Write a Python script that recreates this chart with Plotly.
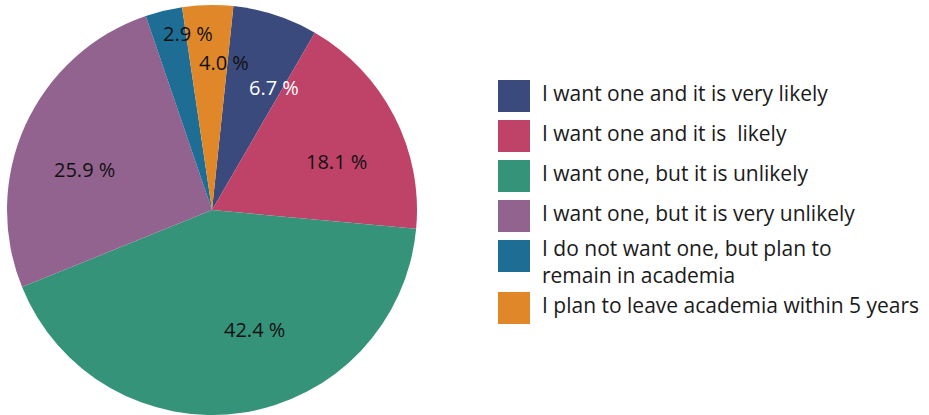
import math
import plotly.graph_objects as go

# Survey answers: career outlook in academia
categories = [
    "I want one and it is very likely",
    "I want one and it is  likely",
    "I want one, but it is unlikely",
    "I want one, but it is very unlikely",
    "I do not want one, but plan to<br>remain in academia",
    "I plan to leave academia within 5 years",
]
shares = [6.7, 18.1, 42.4, 25.9, 2.9, 4.0]
colors = ["#3a4a7d", "#bf4268", "#35937a", "#93638f", "#1d6d94", "#e08829"]
label_colors = ["#ffffff", "#111111", "#111111", "#111111", "#111111", "#111111"]

# Where each value label sits: fraction of the radius, and a turn (degrees)
# away from the middle of its slice
label_radius = [0.67, 0.65, 0.62, 0.65, 0.87, 0.72]
label_turn = [9, 6, -11, -7, 6, 6]

FONT = "Open Sans"
W, H = 929, 415
ROTATION = 6

pie_x = [7 / W, 417 / W]
pie_y = [0, 410 / H]

fig = go.Figure()

fig.add_trace(go.Pie(
    values=shares,
    labels=[c.replace("<br>", " ") for c in categories],
    marker=dict(colors=colors, line=dict(width=0)),
    sort=False,
    direction="clockwise",
    rotation=ROTATION,
    textinfo="none",
    hoverinfo="label+percent",
    showlegend=False,
    domain=dict(x=pie_x, y=pie_y),
))

# Value labels, placed along each slice's angle (clockwise from 12 o'clock)
cx = (pie_x[0] + pie_x[1]) / 2 * W
cy = (pie_y[0] + pie_y[1]) / 2 * H          # from the bottom
radius = min((pie_x[1] - pie_x[0]) * W, (pie_y[1] - pie_y[0]) * H) / 2
total = sum(shares)
start = ROTATION
for v, col, rf, turn in zip(shares, label_colors, label_radius, label_turn):
    sweep = v / total * 360
    ang = math.radians(start + sweep / 2 + turn)
    px = cx + rf * radius * math.sin(ang)
    py = cy + rf * radius * math.cos(ang)
    fig.add_annotation(
        x=px / W, y=py / H, xref="paper", yref="paper",
        text=f"{v:.1f} %", showarrow=False,
        xanchor="center", yanchor="middle",
        font=dict(family=FONT, size=20, color=col),
    )
    start += sweep

# Legend column: one swatch per category, rows spaced by line count
line_counts = [c.count("<br>") + 1 for c in categories]
legend_y = []
pos = 0.0
for n in line_counts:
    legend_y.append(pos)
    pos += 1.0 + 0.3 * (n - 1)
# wrapped labels hang a little below their swatch
text_y = [y + 0.2 * (n - 1) for y, n in zip(legend_y, line_counts)]

LEG_W = W - 514          # width of the legend x axis in px
TEXT_DX = 28 / LEG_W      # gap from swatch centre to label start

fig.add_trace(go.Scatter(
    x=[0] * len(categories),
    y=legend_y,
    mode="markers",
    marker=dict(symbol="square", size=32, color=colors, line=dict(width=0)),
    hoverinfo="skip",
    showlegend=False,
    cliponaxis=False,
))
fig.add_trace(go.Scatter(
    x=[TEXT_DX] * len(categories),
    y=text_y,
    mode="text",
    text=categories,
    textposition="middle right",
    textfont=dict(family=FONT, size=21, color="#1a1a1a"),
    hoverinfo="skip",
    showlegend=False,
    cliponaxis=False,
))

# y axis: first row 96 px from top, 40 px per legend row
row_px = 40.0
top_px = 96.0
span = H / row_px
r_top = -top_px / row_px
fig.update_layout(
    width=W,
    height=H,
    margin=dict(l=0, r=0, t=0, b=0),
    paper_bgcolor="white",
    plot_bgcolor="rgba(0,0,0,0)",
    xaxis=dict(domain=[514 / W, 1], range=[0, 1], visible=False, fixedrange=True),
    yaxis=dict(range=[r_top + span, r_top], visible=False, fixedrange=True),
    font=dict(family=FONT),
)

fig.write_html("out.html")
